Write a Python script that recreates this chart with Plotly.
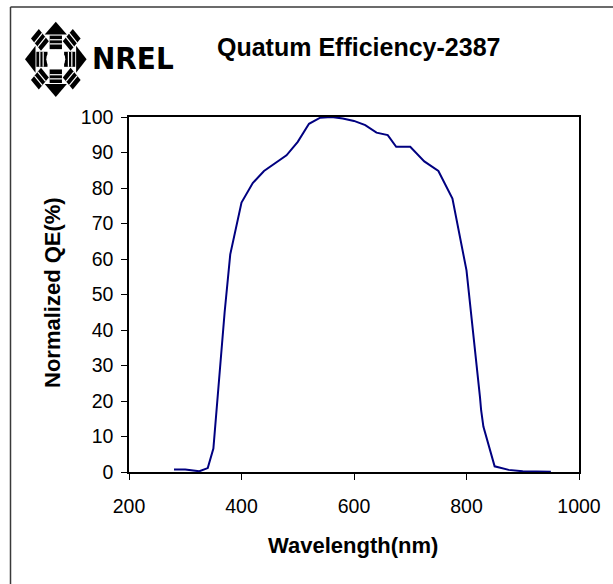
import math
import plotly.graph_objects as go

# ---- data ----
wavelength_nm = [280, 300, 325, 340, 350, 360, 370, 380, 400, 420, 440, 480, 500, 520,
                 540, 560, 580, 600, 620, 640, 660, 675, 700, 725, 750, 775, 800, 824,
                 826, 830, 850, 875, 900, 950]
normalized_qe = [0.7, 0.7, 0.2, 1.1, 6.6, 27, 45, 61.3, 75.9, 81.4, 84.8, 89.2, 93, 98.1,
                 99.8, 100, 99.6, 98.9, 97.7, 95.6, 94.9, 91.6, 91.6, 87.5, 84.8, 77, 56.8, 21,
                 17.4, 12.8, 1.6, 0.6, 0.2, 0.1]
x_ticks = [200, 400, 600, 800, 1000]
y_ticks = [0, 10, 20, 30, 40, 50, 60, 70, 80, 90, 100]
chart_title = "Quatum Efficiency-2387"
x_title = "Wavelength(nm)"
y_title = "Normalized QE(%)"
logo_text = "NREL"

# ---- layout geometry ----
W, H = 613, 584
L, R, T, B = 129, 34, 117, 112
PW, PH = W - L - R, H - T - B


def px(x):
    return (x - L) / PW


def py(y):
    return (H - B - y) / PH


FONT = "Liberation Sans, Arial, sans-serif"

fig = go.Figure()
fig.add_trace(go.Scatter(
    x=wavelength_nm, y=normalized_qe, mode="lines",
    line=dict(color="#000080", width=2), showlegend=False, hoverinfo="x+y"))

shapes = []
# outer border (top + left)
shapes.append(dict(type="line", xref="paper", yref="paper", x0=px(10.5), y0=py(7), x1=px(613), y1=py(7),
                   line=dict(color="#3a3a3a", width=1.5)))
shapes.append(dict(type="line", xref="paper", yref="paper", x0=px(10.5), y0=py(7), x1=px(10.5), y1=py(584),
                   line=dict(color="#3a3a3a", width=1.5)))

# ---- logo (compass) ----
cx, cy, sx, sy = 55.8, 59.3, 30.8, 37.6


def to_pix(nx, ny):
    return cx + nx * sx, cy - ny * sy


def poly(points, color="black"):
    s = ""
    for i, (nx, ny) in enumerate(points):
        X, Y = to_pix(nx, ny)
        s += ("M" if i == 0 else "L") + f"{px(X):.5f},{py(Y):.5f} "
    s += "Z"
    return dict(type="path", xref="paper", yref="paper", path=s, fillcolor=color,
                line=dict(width=0), layer="above")


def seg(a, b, color="white", width=1.2):
    X0, Y0 = to_pix(*a)
    X1, Y1 = to_pix(*b)
    return dict(type="line", xref="paper", yref="paper", x0=px(X0), y0=py(Y0), x1=px(X1), y1=py(Y1),
                line=dict(color=color, width=width), layer="above")


def pt(d, p, r, t):
    return (d[0] * r + p[0] * t, d[1] * r + p[1] * t)


logo_shapes = []
stripes = []
for k in range(4):
    ang = math.pi / 2 + k * math.pi / 2
    d = (math.cos(ang), math.sin(ang))
    p = (-d[1], d[0])
    # arrow head
    logo_shapes.append(poly([pt(d, p, 1.0, 0), pt(d, p, 0.66, 0.36), pt(d, p, 0.66, -0.36)]))
    # arrow body
    logo_shapes.append(poly([pt(d, p, 0.27, 0.2), pt(d, p, 0.63, 0.2),
                             pt(d, p, 0.63, -0.2), pt(d, p, 0.27, -0.2)]))
    for r in (0.41, 0.52):
        stripes.append(seg(pt(d, p, r, -0.2), pt(d, p, r, 0.2)))
    ang2 = ang + math.pi / 4
    d2 = (math.cos(ang2), math.sin(ang2))
    p2 = (-d2[1], d2[0])
    logo_shapes.append(poly([pt(d2, p2, 0.5, -0.18), pt(d2, p2, 0.5, 0.18), pt(d2, p2, 0.96, 0.18),
                             pt(d2, p2, 0.96, -0.18)]))
    for r in (0.65, 0.8):
        stripes.append(seg(pt(d2, p2, r, -0.18), pt(d2, p2, r, 0.18)))

shapes += logo_shapes + stripes
rad = 9.5
shapes.append(dict(type="circle", xref="paper", yref="paper", x0=px(cx - rad), x1=px(cx + rad),
                   y0=py(cy + rad), y1=py(cy - rad), fillcolor="white", line=dict(width=0), layer="above"))

annotations = [
    dict(text=f"<b>{logo_text}</b>", xref="paper", yref="paper", x=px(132.7), y=py(58),
         xanchor="center", yanchor="middle", showarrow=False,
         font=dict(family="Liberation Sans Narrow, DejaVu Sans Condensed, Liberation Sans, sans-serif",
                   size=31, color="black")),
    dict(text=f"<b>{chart_title}</b>", xref="paper", yref="paper", x=px(358.5), y=py(47),
         xanchor="center", yanchor="middle", showarrow=False,
         font=dict(family=FONT, size=25, color="black")),
    dict(text=f"<b>{x_title}</b>", xref="paper", yref="paper", x=px(353), y=py(545),
         xanchor="center", yanchor="middle", showarrow=False,
         font=dict(family=FONT, size=22, color="black")),
    dict(text=f"<b>{y_title}</b>", xref="paper", yref="paper", x=px(52), y=py(293),
         xanchor="center", yanchor="middle", showarrow=False, textangle=-90,
         font=dict(family=FONT, size=22, color="black")),
]

fig.update_layout(
    width=W, height=H,
    margin=dict(l=L, r=R, t=T, b=B, pad=0),
    paper_bgcolor="white", plot_bgcolor="white",
    shapes=shapes, annotations=annotations,
    xaxis=dict(range=[200, 1000], tickvals=x_ticks, ticks="outside", ticklen=6, tickwidth=1,
               tickcolor="black", showgrid=False, zeroline=False, showline=True, linecolor="black",
               linewidth=1.5, mirror=True, tickfont=dict(family=FONT, size=19.5, color="black"),
               ticklabelstandoff=10),
    yaxis=dict(range=[0, 100], tickvals=y_ticks, ticks="outside", ticklen=6, tickwidth=1,
               tickcolor="black", showgrid=False, zeroline=False, showline=True, linecolor="black",
               linewidth=1.5, mirror=True, tickfont=dict(family=FONT, size=19.5, color="black"),
               ticklabelstandoff=4),
)

fig.write_html("out.html")
